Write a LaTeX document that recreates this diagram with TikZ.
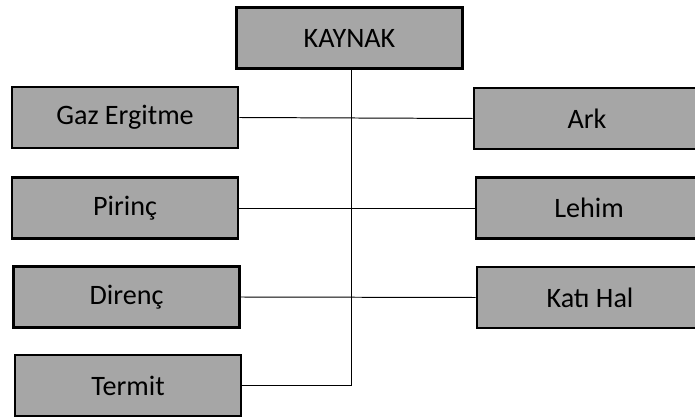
\documentclass[tikz,border=0pt]{standalone}
\usepackage{fontspec}
\setmainfont{Carlito}
\usepackage{tikz}

\begin{document}
\begin{tikzpicture}[x=0.025cm, y=-0.025cm,
    kutu/.style={draw=black, line width=1.9pt, fill=black!35, rectangle,
      minimum width=5.65cm, minimum height=1.52cm, inner sep=0pt,
      font=\fontsize{20}{22}\selectfont},
    hat/.style={line width=0.7pt, black}]
    \useasboundingbox (0,0) rectangle (695,418);
    \clip (0,0) rectangle (695,418);

    \node[kutu] (kaynak) at (349.5, 38) {KAYNAK};

    % sol
    \node[kutu] (gaz) at (125, 117.5) {Gaz Ergitme};
    \node[kutu] (pirinc) at (125, 208) {Pirinç};
    \node[kutu] (direnc) at (126.5, 297) {Direnç};
    \node[kutu] (termit) at (128, 385.5) {Termit};

    % sag
    \node[kutu] (ark) at (587, 118.5) {Ark};
    \node[kutu] (lehim) at (589, 208) {Lehim};
    \node[kutu] (katihal) at (590, 297.5) {Katı Hal};

    \coordinate (dip) at (351.5, 385.5);
    \draw[hat] (kaynak.south -| dip) -- (dip) -- (termit.east);
    \draw[hat] (gaz.east) -- (ark.west);
    \draw[hat] (pirinc.east) -- (lehim.west);
    \draw[hat] (direnc.east) -- (katihal.west);
\end{tikzpicture}
\end{document}
